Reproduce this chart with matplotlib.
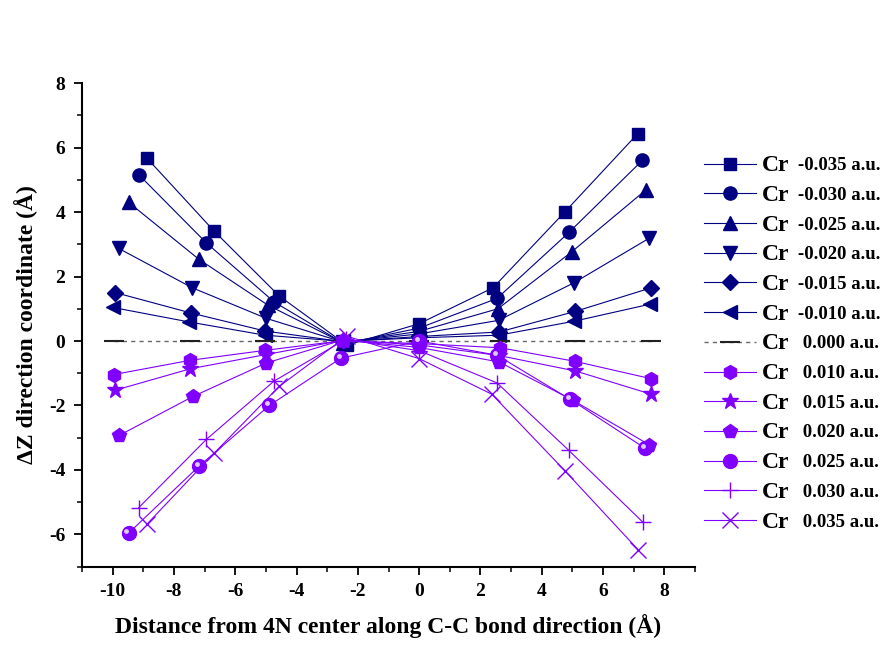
import matplotlib
matplotlib.use("Agg")
import matplotlib.pyplot as plt
from matplotlib.ticker import MultipleLocator
from matplotlib.transforms import offset_copy

plt.rcParams['font.family'] = ['Liberation Serif', 'DejaVu Serif']
plt.rcParams['font.weight'] = 'bold'
plt.rcParams['axes.unicode_minus'] = False

# values
labels = ['-0.035 a.u.', '-0.030 a.u.', '-0.025 a.u.', '-0.020 a.u.', '-0.015 a.u.',
          '-0.010 a.u.', ' 0.000 a.u.', ' 0.010 a.u.', ' 0.015 a.u.', ' 0.020 a.u.',
          ' 0.025 a.u.', ' 0.030 a.u.', ' 0.035 a.u.']

x_m035 = [-8.87, -6.69, -4.57, -2.36, 0.01, 2.41, 4.75, 7.13]
y_m035 = [5.66, 3.41, 1.40, -0.13, 0.54, 1.65, 4.00, 6.43]
x_m030 = [-9.15, -6.94, -4.73, -2.45, 0.0, 2.54, 4.89, 7.28]
y_m030 = [5.16, 3.04, 1.21, -0.08, 0.40, 1.32, 3.37, 5.60]
x_m025 = [-9.48, -7.18, -4.93, -2.5, 0.0, 2.57, 4.97, 7.39]
y_m025 = [4.30, 2.53, 1.11, -0.05, 0.30, 1.00, 2.76, 4.68]
x_m020 = [-9.80, -7.40, -4.98, -2.5, 0.0, 2.59, 5.04, 7.49]
y_m020 = [2.87, 1.65, 0.70, -0.03, 0.22, 0.64, 1.80, 3.18]
x_m015 = [-9.91, -7.45, -5.03, -2.5, 0.0, 2.61, 5.10, 7.57]
y_m015 = [1.50, 0.87, 0.31, -0.02, 0.14, 0.28, 0.92, 1.65]
x_m010 = [-9.99, -7.50, -5.03, -2.5, 0.0, 2.60, 5.04, 7.52]
y_m010 = [1.04, 0.59, 0.18, -0.01, 0.10, 0.18, 0.61, 1.14]
x_000 = [-9.96, -7.48, -5.03, -2.5, 0.0, 2.65, 5.08, 7.57]
y_000 = [0, 0, 0, 0, 0, 0, 0, 0]
x_p010 = [-9.96, -7.48, -5.03, -2.5, 0.0, 2.65, 5.08, 7.57]
y_p010 = [-1.04, -0.60, -0.29, 0.01, -0.08, -0.21, -0.63, -1.17]
x_p015 = [-9.93, -7.46, -5.00, -2.5, 0.0, 2.60, 5.10, 7.57]
y_p015 = [-1.53, -0.86, -0.42, 0.02, -0.12, -0.45, -0.93, -1.65]
x_p020 = [-9.79, -7.38, -4.98, -2.5, 0.0, 2.61, 5.02, 7.49]
y_p020 = [-2.93, -1.72, -0.68, 0.03, -0.20, -0.65, -1.84, -3.21]
x_p025 = [-9.48, -7.18, -4.89, -2.55, 0.0, 2.54, 4.93, 7.36]
y_p025 = [-5.96, -3.88, -2.00, -0.53, 0.0, -0.44, -1.81, -3.32]
x_p030 = [-9.15, -6.94, -4.73, -2.40, 0.0, 2.54, 4.88, 7.30]
y_p030 = [-5.17, -3.05, -1.24, 0.05, -0.30, -1.30, -3.39, -5.62]
x_p035 = [-8.87, -6.69, -4.57, -2.36, 0.01, 2.37, 4.75, 7.15]
y_p035 = [-5.67, -3.48, -1.41, 0.15, -0.55, -1.65, -4.02, -6.48]

navy = '#000080'
violet = '#8000ff'


def main():
    fig = plt.figure(figsize=(8.88, 6.68), dpi=100)
    ax = fig.add_axes([0.0923, 0.1516, 0.6904, 0.7241])

    blue = [(x_m035, y_m035, 's', 9), (x_m030, y_m030, 'o', 9.5),
            (x_m025, y_m025, '^', 10), (x_m020, y_m020, 'v', 10),
            (x_m015, y_m015, 'D', 8), (x_m010, y_m010, '<', 10)]
    purple = [(x_p010, y_p010, 'h', 10), (x_p015, y_p015, '*', 12),
              (x_p020, y_p020, 'p', 10), (x_p025, y_p025, 'o', 10),
              (x_p030, y_p030, '+', 12), (x_p035, y_p035, 'x', 11)]

    handles = []
    for x, y, m, ms in blue:
        h, = ax.plot(x, y, color=navy, lw=0.8, marker=m, ms=ms, mew=1)
        handles.append(h)

    h0, = ax.plot(x_000, y_000, color='#666666', lw=1.0, ls=(0, (3, 3)),
                  marker='_', ms=14, mec='#222222', mew=1.5)
    handles.append(h0)

    for x, y, m, ms in purple:
        h, = ax.plot(x, y, color=violet, lw=0.8, marker=m, ms=ms, mew=1)
        handles.append(h)

    # little shine on the 0.025 spheres
    shine = offset_copy(ax.transData, fig=fig, x=-1.5, y=1.5, units='points')
    ax.plot(x_p025, y_p025, 'o', ms=3.5, color='#e0c8ff', mew=0, transform=shine)

    ax.set_xlim(-11, 9)
    ax.set_ylim(-7, 8)
    ax.xaxis.set_major_locator(MultipleLocator(2))
    ax.xaxis.set_minor_locator(MultipleLocator(1))
    ax.yaxis.set_major_locator(MultipleLocator(2))
    ax.yaxis.set_minor_locator(MultipleLocator(1))
    for s in ['top', 'right']:
        ax.spines[s].set_visible(False)
    for s in ['left', 'bottom']:
        ax.spines[s].set_linewidth(1.5)
    ax.tick_params(which='major', direction='out', length=6, width=1.3,
                   labelsize=14, pad=6)
    ax.tick_params(which='minor', direction='out', length=3.5, width=1.1)
    for t in ax.get_xticklabels() + ax.get_yticklabels():
        t.set_fontweight('bold')

    ax.set_xlabel('Distance from 4N center along C-C bond direction (Å)',
                  fontsize=17, fontweight='bold', labelpad=10)
    ax.set_ylabel('ΔZ direction coordinate (Å)', fontsize=17, fontweight='bold',
                  labelpad=8)

    leg = ax.legend(handles, labels, loc='upper left',
                    bbox_to_anchor=(0.784, 0.776), bbox_transform=fig.transFigure,
                    frameon=False, handlelength=2.77,
                    handletextpad=2.25, labelspacing=0.67, borderaxespad=0,
                    prop={'weight': 'bold', 'size': 13.5})

    # the "Cr" part of each label is set in a bigger font
    fig.canvas.draw()
    r = fig.canvas.get_renderer()
    inv = fig.transFigure.inverted()
    for t in leg.get_texts():
        bb = t.get_window_extent(r)
        xf, yf = inv.transform((bb.x0, (bb.y0 + bb.y1) / 2))
        fig.text(762 / 888, yf, 'Cr', fontsize=17, fontweight='bold',
                 ha='left', va='center')

    fig.savefig('out.png', dpi=100)


main()
